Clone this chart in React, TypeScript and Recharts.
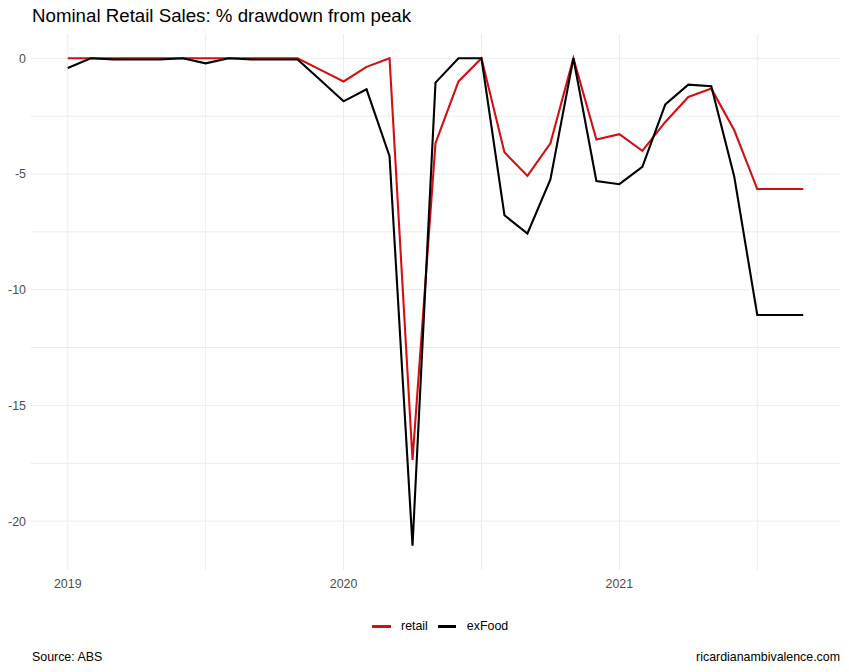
import React from "react";
import {
  LineChart,
  Line,
  XAxis,
  YAxis,
  CartesianGrid,
} from "recharts";

// monthly, Jan 2019 .. Sep 2021
const months = [
  "2019-01", "2019-02", "2019-03", "2019-04", "2019-05", "2019-06",
  "2019-07", "2019-08", "2019-09", "2019-10", "2019-11", "2019-12",
  "2020-01", "2020-02", "2020-03", "2020-04", "2020-05", "2020-06",
  "2020-07", "2020-08", "2020-09", "2020-10", "2020-11", "2020-12",
  "2021-01", "2021-02", "2021-03", "2021-04", "2021-05", "2021-06",
  "2021-07", "2021-08", "2021-09",
];

const retail = [
  0, 0, 0, 0, 0, 0, 0, 0, 0, 0, 0, -0.5,
  -1.0, -0.37, 0, -17.35, -3.67, -1.0, 0, -4.06, -5.08, -3.67, 0, -3.51,
  -3.28, -4.0, -2.75, -1.67, -1.31, -3.11, -5.65, -5.65, -5.65,
];

const exFood = [
  -0.42, 0, -0.05, -0.05, -0.05, 0, -0.22, 0, -0.05, -0.05, -0.05, -0.95,
  -1.86, -1.34, -4.23, -21.06, -1.05, 0, 0, -6.78, -7.57, -5.23, 0, -5.3,
  -5.44, -4.69, -1.99, -1.14, -1.21, -5.12, -11.09, -11.09, -11.09,
];

const yearTicks = [0, 12, 24];
const yearLabels = ["2019", "2020", "2021"];
const yTicks = [0, -5, -10, -15, -20];

const data = months.map((m, i) => ({
  m: i,
  date: m,
  retail: retail[i],
  exFood: exFood[i],
}));

const FONT = '"Liberation Sans", Arial, sans-serif';
const RED = "#D40F12";
const SMALL = 12.4;

export default function App() {
  return (
    <div
      style={{
        position: "absolute",
        left: 0,
        top: 0,
        width: 849,
        height: 672,
        background: "#fff",
        fontFamily: FONT,
      }}
    >
      <div
        style={{
          position: "absolute",
          left: 32,
          top: 7,
          fontSize: 18.7,
          lineHeight: "18.7px",
          color: "#000",
          whiteSpace: "nowrap",
        }}
      >
        Nominal Retail Sales: % drawdown from peak
      </div>

      <LineChart
        width={849}
        height={672}
        data={data}
        margin={{ top: 34, right: 9, bottom: 72, left: 0 }}
      >
        <CartesianGrid
          stroke="#EBEBEB"
          strokeWidth={1}
          horizontalValues={[0, -2.5, -5, -7.5, -10, -12.5, -15, -17.5, -20]}
          verticalValues={[0, 6, 12, 18, 24, 30]}
        />
        <XAxis
          dataKey="m"
          type="number"
          domain={[-1.6, 33.6]}
          ticks={yearTicks}
          tickFormatter={(v: number) => yearLabels[yearTicks.indexOf(v)] ?? ""}
          axisLine={false}
          tickLine={false}
          tickSize={0}
          tickMargin={9}
          height={30}
          allowDataOverflow
          tick={{ fontSize: SMALL, fill: "#4D4D4D", fontFamily: FONT }}
        />
        <YAxis
          type="number"
          domain={[-22.11, 1.05]}
          ticks={yTicks}
          axisLine={false}
          tickLine={false}
          tickSize={0}
          tickMargin={5}
          width={31}
          allowDataOverflow
          tick={{ fontSize: SMALL, fill: "#4D4D4D", fontFamily: FONT }}
        />
        <Line
          type="linear"
          dataKey="retail"
          stroke={RED}
          strokeWidth={2.1}
          dot={false}
          isAnimationActive={false}
        />
        <Line
          type="linear"
          dataKey="exFood"
          stroke="#000"
          strokeWidth={2.1}
          dot={false}
          isAnimationActive={false}
        />
      </LineChart>

      {/* legend */}
      <div
        style={{
          position: "absolute",
          left: 372,
          top: 620,
          display: "flex",
          alignItems: "center",
          fontSize: SMALL,
          lineHeight: "13px",
          color: "#000",
        }}
      >
        <span style={{ width: 19, height: 2.2, background: RED, marginRight: 10 }} />
        <span style={{ marginRight: 10 }}>retail</span>
        <span style={{ width: 18, height: 2.2, background: "#000", marginRight: 11 }} />
        <span>exFood</span>
      </div>

      <div
        style={{
          position: "absolute",
          left: 32,
          top: 651,
          fontSize: SMALL,
          lineHeight: "12.4px",
          color: "#000",
        }}
      >
        Source: ABS
      </div>
      <div
        style={{
          position: "absolute",
          right: 9,
          top: 651,
          fontSize: SMALL,
          lineHeight: "12.4px",
          color: "#000",
        }}
      >
        ricardianambivalence.com
      </div>
    </div>
  );
}
